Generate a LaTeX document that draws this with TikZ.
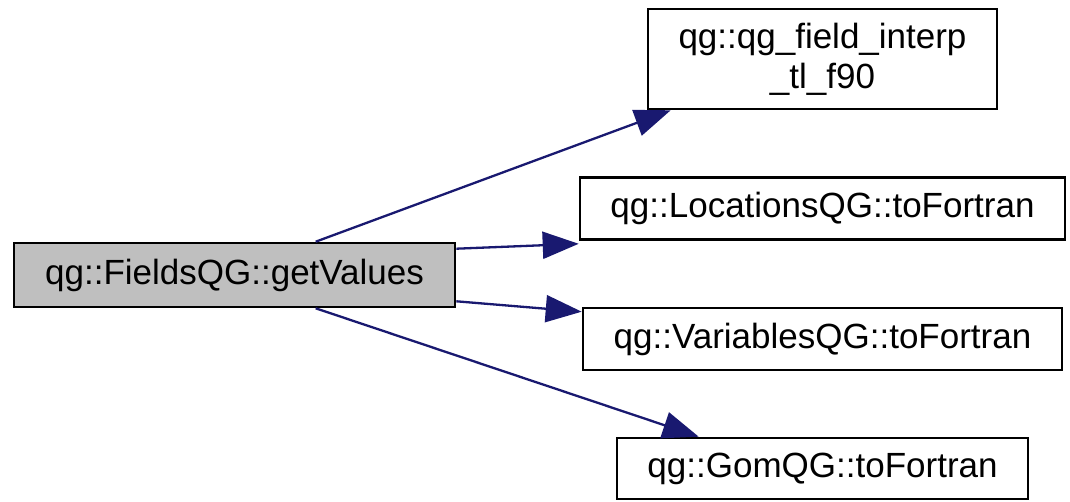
\documentclass[tikz,border=0pt]{standalone}
\usepackage{fontspec}
\setmainfont{Liberation Sans}
\usetikzlibrary{arrows.meta}
\definecolor{edgeblue}{HTML}{191970}
\definecolor{boxgrey}{HTML}{BFBFBF}
\tikzset{
  fn/.style={draw=black, line width=2.6pt, fill=white, inner sep=0pt,
    font=\fontsize{35}{40}\selectfont, align=center},
  current/.style={fn, fill=boxgrey},
  call/.style={draw=edgeblue, line width=2.3pt,
    -{Triangle[length=36pt, width=27pt]}, shorten >=0pt}
}
\begin{document}
\begin{tikzpicture}[x=1pt, y=1pt]
  \useasboundingbox (0,0) rectangle (1070,501);
  % caller
  \node[current, minimum width=441pt, minimum height=64pt] (fq) at (234.5,226) {qg::FieldsQG::getValues};
  % callees
  \node[fn, minimum width=349pt, minimum height=100pt] (ti) at (822.5,442) {qg::qg\_field\_interp\\\_tl\_f90};
  \node[fn, minimum width=485pt, minimum height=62pt] (loc) at (822.5,292.5) {qg::LocationsQG::toFortran};
  \node[fn, minimum width=479pt, minimum height=62pt] (var) at (822.5,162) {qg::VariablesQG::toFortran};
  \node[fn, minimum width=411pt, minimum height=61pt] (gom) at (822.5,32.5) {qg::GomQG::toFortran};
  % call edges
  \draw[call] ([xshift=303pt]fq.north west) -- ([xshift=24pt]ti.south west);
  \draw[call] ([yshift=-7pt]fq.north east) -- ([yshift=-3pt]loc.south west);
  \draw[call] ([yshift=7pt]fq.south east) -- ([yshift=-5pt]var.north west);
  \draw[call] ([xshift=303pt]fq.south west) -- ([xshift=83pt]gom.north west);
\end{tikzpicture}
\end{document}
